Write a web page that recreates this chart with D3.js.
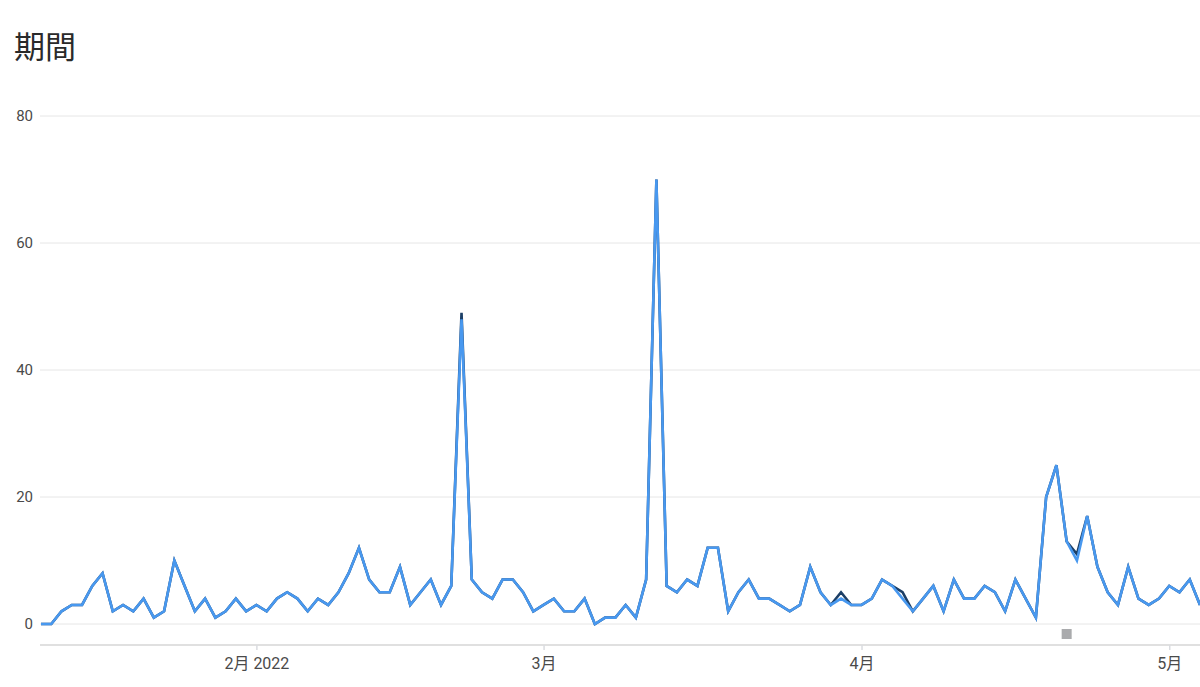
<!DOCTYPE html>
<html>
<head>
<meta charset="utf-8">
<script src="https://cdn.jsdelivr.net/npm/d3@7"></script>
<style>
  html, body { margin: 0; padding: 0; background: #fff; }
  svg { display: block; }
</style>
</head>
<body>
<svg id="chart" width="1200" height="687"></svg>
<script>
// ---- data ----
const title = "期間";
const startDate = "2022-01-11";
const endDate = "2022-05-04";
const seriesLight = [0,0,2,3,3,6,8,2,3,2,4,1,2,10,6,2,4,1,2,4,2,3,2,4,5,4,2,4,3,5,8,12,7,5,5,9,3,5,7,3,6,48,7,5,4,7,7,5,2,3,4,2,2,4,0,1,1,3,1,7,70,6,5,7,6,12,12,2,5,7,4,4,3,2,3,9,5,3,4,3,3,4,7,6,4,2,4,6,2,7,4,4,6,5,2,7,4,1,20,25,13,10,17,9,5,3,9,4,3,4,6,5,7,3];
const seriesDark  = [0,0,2,3,3,6,8,2,3,2,4,1,2,10,6,2,4,1,2,4,2,3,2,4,5,4,2,4,3,5,8,12,7,5,5,9,3,5,7,3,6,49,7,5,4,7,7,5,2,3,4,2,2,4,0,1,1,3,1,7,70,6,5,7,6,12,12,2,5,7,4,4,3,2,3,9,5,3,5,3,3,4,7,6,5,2,4,6,2,7,4,4,6,5,2,7,4,1,20,25,13,11,17,9,5,3,9,4,3,4,6,5,7,3];
const yTicks = [0, 20, 40, 60, 80];
const xTickDates = ["2022-02-01", "2022-03-01", "2022-04-01", "2022-05-01"];
const xTickLabels = ["2月 2022", "3月", "4月", "5月"];
const annotationDates = ["2022-04-21"];

// ---- chart ----
const parse = d3.timeParse("%Y-%m-%d");
const dates = d3.timeDay.range(parse(startDate), d3.timeDay.offset(parse(endDate), 1));

const svg = d3.select("#chart");
const mLeft = 41, mRight = 1200, mTop = 116, zeroY = 624, axisY = 645;

const x = d3.scaleTime().domain([parse(startDate), parse(endDate)]).range([mLeft, mRight]);
const y = d3.scaleLinear().domain([0, 80]).range([zeroY, mTop]);

svg.append("text")
  .attr("x", 14).attr("y", 58)
  .attr("font-family", "'Noto Sans CJK JP', 'Noto Sans', sans-serif")
  .attr("font-size", 31)
  .attr("fill", "#2a2a2a")
  .text(title);

// gridlines
svg.append("g").selectAll("line").data(yTicks).join("line")
  .attr("x1", 40).attr("x2", 1200)
  .attr("y1", d => y(d)).attr("y2", d => y(d))
  .attr("stroke", "#e6e6e6").attr("stroke-width", 1);

svg.append("g").selectAll("text").data(yTicks).join("text")
  .attr("x", 33).attr("y", d => y(d)).attr("dy", "0.35em")
  .attr("text-anchor", "end")
  .attr("font-family", "Roboto, 'Noto Sans', sans-serif")
  .attr("font-size", 15)
  .attr("fill", "#4a4a4a")
  .text(d => d);

// x axis
const xAxis = d3.axisBottom(x)
  .tickValues(xTickDates.map(parse))
  .tickSize(5)
  .tickFormat((d, i) => xTickLabels[i]);
const gx = svg.append("g").attr("transform", `translate(0,${axisY})`).call(xAxis);
gx.select(".domain").attr("stroke", "#e0e0e0").attr("stroke-width", 2)
  .attr("d", `M40,0H1200`);
gx.selectAll(".tick line").attr("stroke", "#dadce0").attr("stroke-width", 1.5);
gx.selectAll(".tick text")
  .attr("y", 20).attr("dy", "0")
  .attr("dominant-baseline", "middle")
  .attr("font-family", "Roboto, 'Noto Sans CJK JP', sans-serif")
  .attr("font-size", 16)
  .attr("fill", "#4a4a4a");

// lines
const line = d3.line().x((d, i) => x(dates[i])).y(d => y(d));
svg.append("path").datum(seriesDark)
  .attr("d", line).attr("fill", "none")
  .attr("stroke", "#1c3f66").attr("stroke-width", 2.6).attr("stroke-linejoin", "miter");
svg.append("path").datum(seriesLight)
  .attr("d", line).attr("fill", "none")
  .attr("stroke", "#4898ef").attr("stroke-width", 2.6).attr("stroke-linejoin", "miter");

// annotation markers
svg.append("g").selectAll("rect").data(annotationDates).join("rect")
  .attr("x", d => x(parse(d)) - 5).attr("y", 629)
  .attr("width", 10).attr("height", 10)
  .attr("fill", "#aaabad");
</script>
</body>
</html>
